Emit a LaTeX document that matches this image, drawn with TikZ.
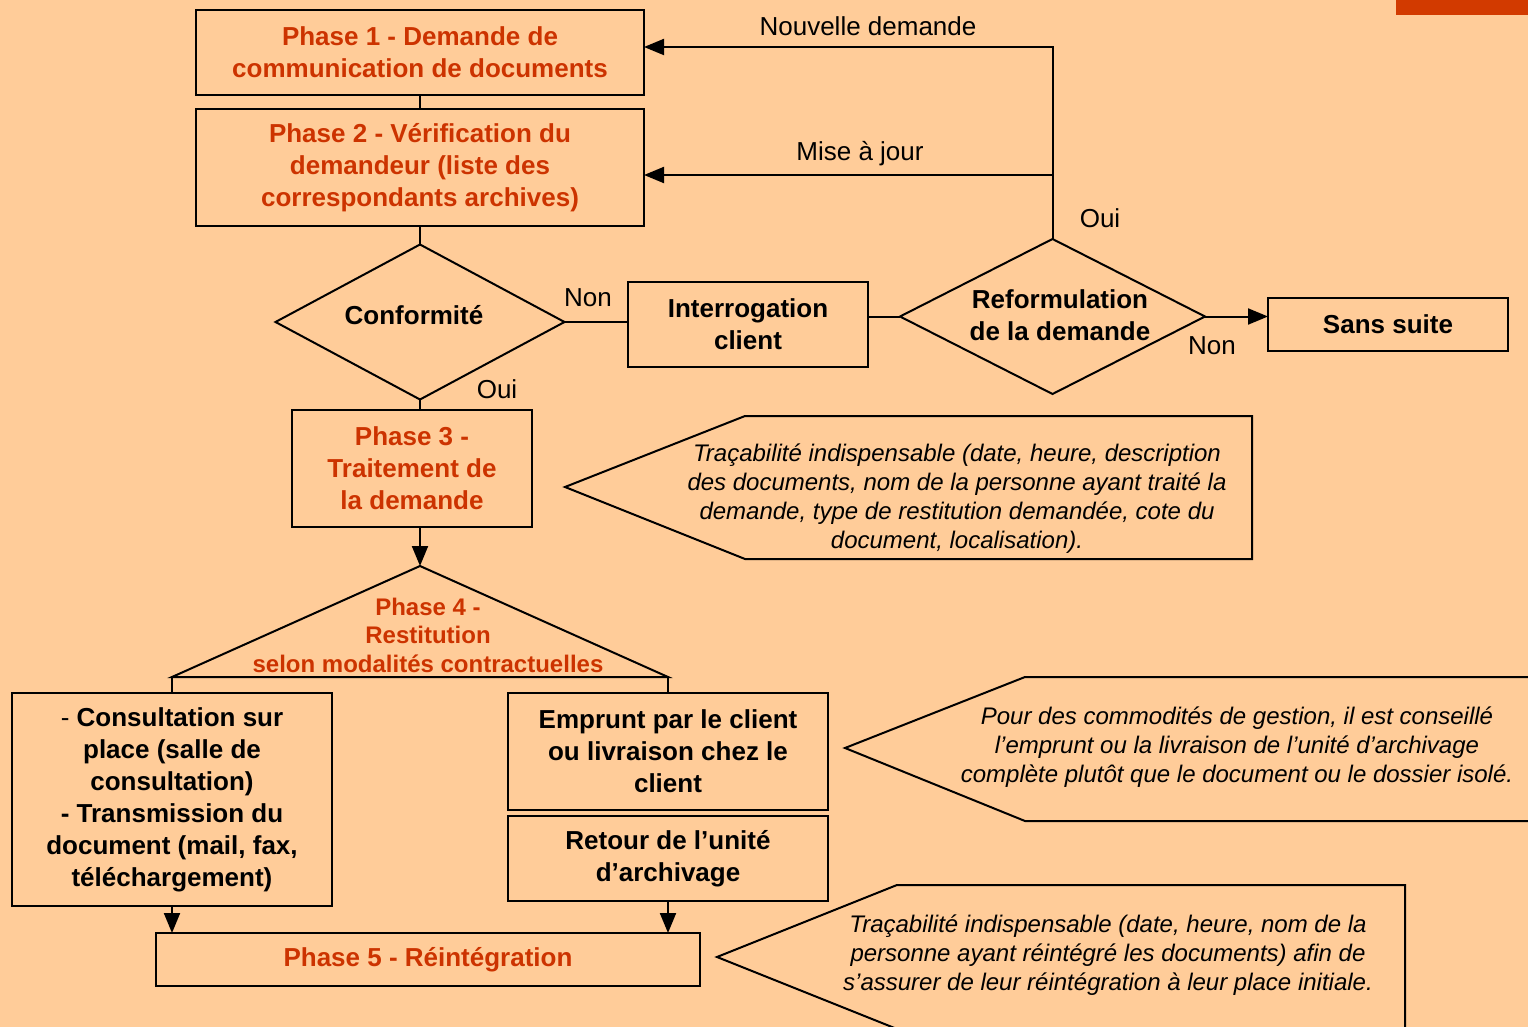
\documentclass[tikz,border=0pt]{standalone}
\usepackage{fontspec}
\setmainfont{Liberation Sans}
\usetikzlibrary{shapes.geometric,arrows.meta}
\definecolor{bg}{HTML}{FFCC99}
\definecolor{phase}{HTML}{CC3300}
\definecolor{tab}{HTML}{D23A00}

\begin{document}
\begin{tikzpicture}[x=1pt,y=-1pt,
  every node/.style={inner sep=0pt, outer sep=0pt},
  box/.style={draw, line width=2pt, rectangle, align=center, font=\fontsize{26}{32}\selectfont\bfseries},
  phasebox/.style={box, text=phase},
  decision/.style={draw, line width=2pt, diamond},
  boldtext/.style={align=center, font=\fontsize{26}{32}\selectfont\bfseries},
  answer/.style={font=\fontsize{26}{32}\selectfont},
  note/.style={align=center, font=\fontsize{24}{29}\selectfont\itshape},
  link/.style={line width=2pt},
  arrow/.style={link, -{Triangle[length=20pt,width=16pt]}},
]
% canvas
\fill[bg] (0,0) rectangle (1528,1027);
\useasboundingbox (0,0) rectangle (1528,1027);
\clip (0,0) rectangle (1528,1027);
\fill[tab] (1396,0) rectangle (1528,15);

% phases 1 and 2
\node[phasebox, minimum width=448, minimum height=85] (p1) at (420,52.5)
  {Phase 1 - Demande de\\communication de documents};
\node[phasebox, minimum width=448, minimum height=117] (p2) at (420,167.5)
  {Phase 2 - Vérification du\\demandeur (liste des\\correspondants archives)};

% decisions
\node[decision, minimum width=289, minimum height=155] (conf) at (420,322) {};
\node[boldtext] (conftxt) at (414,315) {Conformité};
\node[box, minimum width=240, minimum height=85] (interro) at (748,324.5) {Interrogation\\client};
\node[decision, minimum width=305, minimum height=155] (reform) at (1052.5,316.5) {};
\node[boldtext] (reformtxt) at (1060,315) {Reformulation\\de la demande};
\node[box, minimum width=240, minimum height=53] (sans) at (1388,324.5) {Sans suite};

% phase 3
\node[phasebox, minimum width=240, minimum height=117] (p3) at (412,468.5)
  {Phase 3 -\\Traitement de\\la demande};

% phase 4 (triangle)
\coordinate (apex) at (420,566);
\coordinate (bl) at (172,677);
\coordinate (br) at (668,677);
\draw[link, line join=miter] (apex) -- (br) -- (bl) -- cycle;
\node[align=center, text=phase, font=\fontsize{24}{28.5}\selectfont\bfseries] (p4) at (428,635)
  {Phase 4 -\\Restitution\\selon modalités contractuelles};

% restitution modes
\node[box, minimum width=320, minimum height=213] (consult) at (172,799.5)
  {{\mdseries -} Consultation sur\\place (salle de\\consultation)\\- Transmission du\\document (mail, fax,\\téléchargement)};
\node[box, minimum width=320, minimum height=117] (emprunt) at (668,751.5)
  {Emprunt par le client\\ou livraison chez le\\client};
\node[box, minimum width=320, minimum height=85] (retour) at (668,858.5)
  {Retour de l’unité\\d’archivage};

% phase 5
\node[phasebox, minimum width=544, minimum height=53] (p5) at (428,959.5)
  {Phase 5 - Réintégration};

% connectors
\draw[link] (p1) -- (p2);
\draw[link] (p2) -- (conf);
\draw[link] (conf.east) -- (interro.west |- conf.east);
\draw[link] (interro.east |- reform.west) -- (reform.west);
\draw[arrow] (reform.east) -- (sans.west |- reform.east);
\draw[arrow] (reform.north) |- (p1.east |- 0,47);
\draw[arrow] (reform.north |- 0,175) -- (p2.east |- 0,175);
\draw[link] (conf.south) -- (conf.south |- p3.north);
\draw[arrow] (conf.south |- p3.south) -- (apex);
\draw[link] (bl) -- (bl |- consult.north);
\draw[link] (br) -- (br |- emprunt.north);
\draw[arrow] (consult.south) -- (consult.south |- p5.north);
\draw[arrow] (retour.south) -- (retour.south |- p5.north);

% answers
\node[answer] (nonA) at (588,298) {Non};
\node[answer] (ouiA) at (497,389) {Oui};
\node[answer] (nonB) at (1212,346) {Non};
\node[answer] (ouiB) at (1100,218) {Oui};
\node[answer] (maj) at (860,154) {Mise à jour};
\node[answer] (nouv) at (868,26) {Nouvelle demande};

% callouts
\draw[link, line join=miter] (1252,416) -- (745,416) -- (565,487) -- (745,559) -- (1252,559) -- cycle;
\node[note] (n1) at (957,499)
  {Traçabilité indispensable (date, heure, description\\des documents, nom de la personne ayant traité la\\demande, type de restitution demandée, cote du\\document, localisation).};

\draw[link, line join=miter] (1560,677) -- (1025,677) -- (845,748) -- (1025,821) -- (1560,821);
\node[note] (n2) at (1237,747)
  {Pour des commodités de gestion, il est conseillé\\l’emprunt ou la livraison de l’unité d’archivage\\complète plutôt que le document ou le dossier isolé.};

\draw[link, line join=miter] (1405,1060) -- (1405,885) -- (897,885) -- (717,957) -- (897,1029) -- (1405,1029);
\node[note] (n3) at (1108,955)
  {Traçabilité indispensable (date, heure, nom de la\\personne ayant réintégré les documents) afin de\\s’assurer de leur réintégration à leur place initiale.};
\end{tikzpicture}
\end{document}
